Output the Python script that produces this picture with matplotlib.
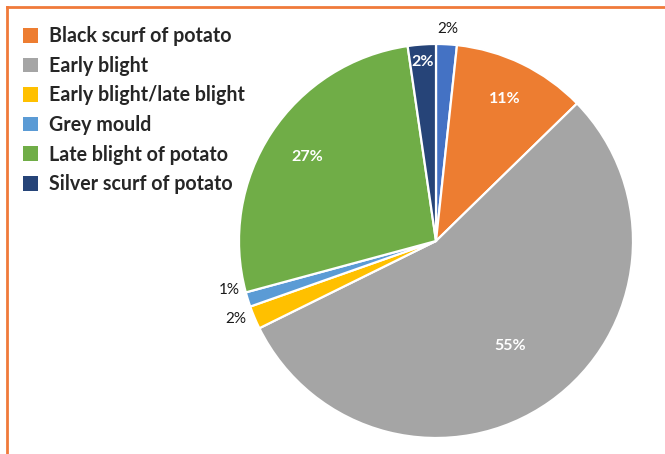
import numpy as np
import matplotlib.pyplot as plt
from matplotlib.patches import Patch
from matplotlib.lines import Line2D

# Disease share of reported cases (first slice has no legend entry)
diseases = ['Other', 'Black scurf of potato', 'Early blight',
            'Early blight/late blight', 'Grey mould',
            'Late blight of potato', 'Silver scurf of potato']
shares = [1.7, 11.0, 55.0, 1.9, 1.2, 26.9, 2.3]
colors = ['#4472C4', '#ED7D31', '#A5A5A5', '#FFC000', '#5B9BD5',
          '#70AD47', '#264478']
show_in_legend = [False, True, True, True, True, True, True]

# where each percentage label sits: fraction of radius, angle nudge (deg)
label_radius = [1.08, 0.80, 0.65, 1.09, 1.08, 0.78, 0.91]
label_nudge = [0, 0, 0, -1.5, -4, 0, 0]
label_inside = [False, True, True, False, False, True, True]

plt.rcParams['font.family'] = ['Lato', 'DejaVu Sans']

W, H = 665, 454
fig = plt.figure(figsize=(W / 100, H / 100), dpi=100)

# frame lines along top and left
fig.add_artist(Line2D([6.5 / W, 1], [1 - 6.5 / H, 1 - 6.5 / H],
                      color='#F07A3A', lw=2, transform=fig.transFigure))
fig.add_artist(Line2D([7 / W, 7 / W], [0, 1 - 6.5 / H],
                      color='#F07A3A', lw=2, transform=fig.transFigure))

cx, cy, r = 436, 241, 197
ax = fig.add_axes([(cx - r) / W, 1 - (cy + r) / H, 2 * r / W, 2 * r / H])
wedges, _ = ax.pie(shares, colors=colors, startangle=90, counterclock=False,
                   radius=1,
                   wedgeprops=dict(edgecolor='white', linewidth=1.6))
ax.set_xlim(-1, 1)
ax.set_ylim(-1, 1)
ax.set_aspect('equal')
ax.axis('off')

total = sum(shares)
for w, v, lr, dn, inside in zip(wedges, shares, label_radius, label_nudge,
                                label_inside):
    mid = np.deg2rad((w.theta1 + w.theta2) / 2 + dn)
    x, y = lr * np.cos(mid), lr * np.sin(mid)
    pct = '{:.0f}%'.format(v / total * 100)
    if inside:
        ax.text(x, y, pct, ha='center', va='center', color='white',
                fontsize=11.5, fontweight='bold')
    else:
        ax.text(x, y, pct, ha='center', va='center', color='#1a1a1a',
                fontsize=11, clip_on=False)

handles = [Patch(facecolor=c, edgecolor='none', label=n)
           for n, c, s in zip(diseases, colors, show_in_legend) if s]
fig.legend(handles=handles, loc='upper left',
           bbox_to_anchor=(5 / W, 1 - 8.5 / H), frameon=False,
           prop={'weight': 'bold', 'size': 14.1}, handlelength=0.77,
           handleheight=0.77, handletextpad=0.6, labelspacing=0.49,
           labelcolor='#262626')

fig.savefig('out.png', dpi=100)
